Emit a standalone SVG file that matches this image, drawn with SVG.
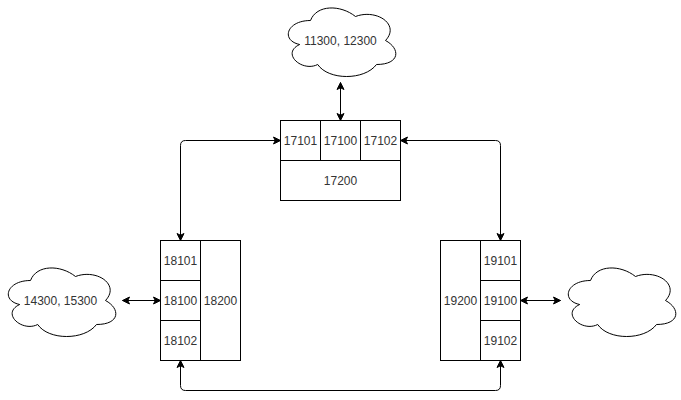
<svg xmlns="http://www.w3.org/2000/svg" xmlns:xlink="http://www.w3.org/1999/xlink" width="681" height="400" viewBox="0 0 681 400">
  <style>
    .shape { fill: #ffffff; stroke: #000000; stroke-width: 1; }
    .edge { fill: none; stroke: #000000; stroke-width: 1; marker-start: url(#arrow); marker-end: url(#arrow); }
    .label { font-family: "Liberation Sans", Arial, Helvetica, sans-serif; font-size: 12px; fill: #333333; text-anchor: middle; dominant-baseline: central; }
  </style>
  <defs>
    <marker id="arrow" markerUnits="userSpaceOnUse" markerWidth="10" markerHeight="10" viewBox="-8 -5 10 10" refX="0" refY="0" orient="auto-start-reverse">
      <path d="M 0 0 L -7 -3.5 L -5.25 0 L -7 3.5 Z" fill="#000000" stroke="#000000" stroke-width="1"/>
    </marker>
    <path id="cloud" d="M 30 20 C 6 20 0 40 19.2 44 C 0 52.8 21.6 72 37.2 64 C 48 80 84 80 96 64 C 120 64 120 48 105 40 C 120 24 96 8 75 16 C 60 4 36 4 30 20 Z"/>
  </defs>
  <rect x="0" y="0" width="681" height="400" fill="#ffffff"/>
  <g transform="translate(0.5,0.5)">
    <g id="connectors">
      <path class="edge" d="M 340 82 L 340 120"/>
      <path class="edge" d="M 280 140 L 185 140 Q 180 140 180 145 L 180 240"/>
      <path class="edge" d="M 400 140 L 495 140 Q 500 140 500 145 L 500 240"/>
      <path class="edge" d="M 180 360 L 180 385 Q 180 390 185 390 L 495 390 Q 500 390 500 385 L 500 360"/>
      <path class="edge" d="M 122 300 L 160 300"/>
      <path class="edge" d="M 520 300 L 560 300"/>
    </g>
    <g id="cloud-top">
      <use xlink:href="#cloud" href="#cloud" class="shape" transform="translate(280,0)"/>
      <text class="label" x="340" y="40">11300, 12300</text>
    </g>
    <g id="cloud-left">
      <use xlink:href="#cloud" href="#cloud" class="shape" transform="translate(0,260)"/>
      <text class="label" x="60" y="300">14300, 15300</text>
    </g>
    <g id="cloud-right">
      <use xlink:href="#cloud" href="#cloud" class="shape" transform="translate(560,260)"/>
    </g>
    <g id="node-17">
      <g id="n17101"><rect class="shape" x="280" y="120" width="40" height="40"/><text class="label" x="300" y="140">17101</text></g>
      <g id="n17100"><rect class="shape" x="320" y="120" width="40" height="40"/><text class="label" x="340" y="140">17100</text></g>
      <g id="n17102"><rect class="shape" x="360" y="120" width="40" height="40"/><text class="label" x="380" y="140">17102</text></g>
      <g id="n17200"><rect class="shape" x="280" y="160" width="120" height="40"/><text class="label" x="340" y="180">17200</text></g>
    </g>
    <g id="node-18">
      <g id="n18101"><rect class="shape" x="160" y="240" width="40" height="40"/><text class="label" x="180" y="260">18101</text></g>
      <g id="n18100"><rect class="shape" x="160" y="280" width="40" height="40"/><text class="label" x="180" y="300">18100</text></g>
      <g id="n18102"><rect class="shape" x="160" y="320" width="40" height="40"/><text class="label" x="180" y="340">18102</text></g>
      <g id="n18200"><rect class="shape" x="200" y="240" width="40" height="120"/><text class="label" x="220" y="300">18200</text></g>
    </g>
    <g id="node-19">
      <g id="n19200"><rect class="shape" x="440" y="240" width="40" height="120"/><text class="label" x="460" y="300">19200</text></g>
      <g id="n19101"><rect class="shape" x="480" y="240" width="40" height="40"/><text class="label" x="500" y="260">19101</text></g>
      <g id="n19100"><rect class="shape" x="480" y="280" width="40" height="40"/><text class="label" x="500" y="300">19100</text></g>
      <g id="n19102"><rect class="shape" x="480" y="320" width="40" height="40"/><text class="label" x="500" y="340">19102</text></g>
    </g>
  </g>
</svg>
